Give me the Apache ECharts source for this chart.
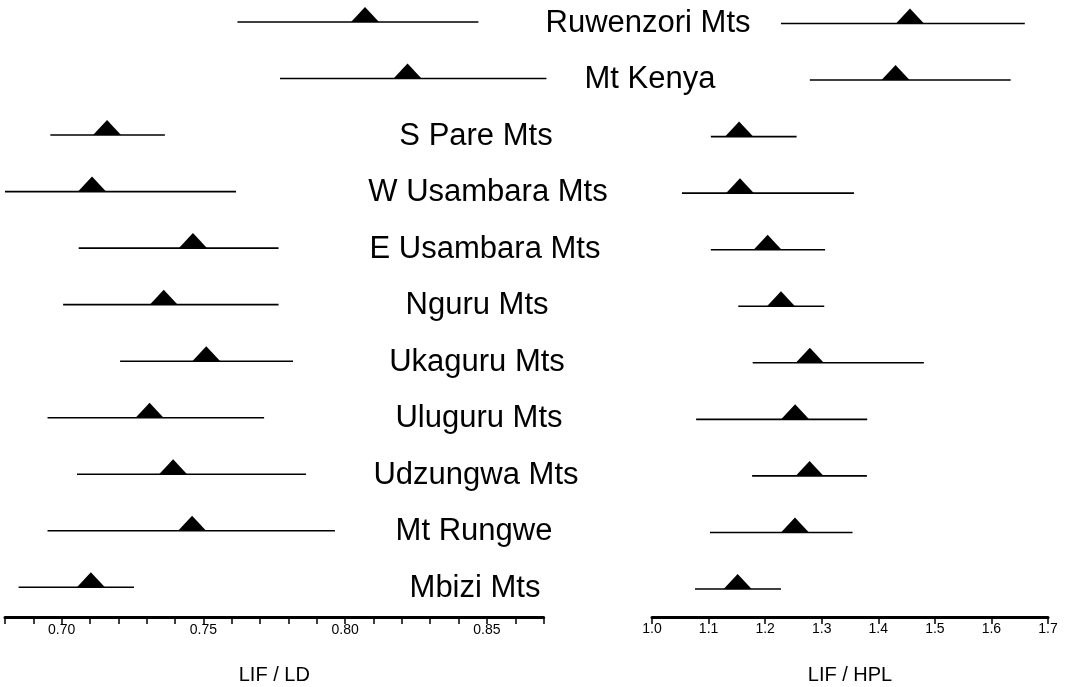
<!DOCTYPE html>
<html>
<head>
<meta charset="utf-8">
<script src="https://cdn.jsdelivr.net/npm/echarts@6/dist/echarts.min.js"></script>
<style>
html,body{margin:0;padding:0;background:#fff;}
#chart{width:1066px;height:687px;}
</style>
</head>
<body>
<div id="chart"></div>
<script>
// ---- data ----
const categories = ['Ruwenzori Mts','Mt Kenya','S Pare Mts','W Usambara Mts','E Usambara Mts','Nguru Mts','Ukaguru Mts','Uluguru Mts','Udzungwa Mts','Mt Rungwe','Mbizi Mts'];
const ldMin  = [0.762, 0.777, 0.696, 0.680, 0.706, 0.7005, 0.7206, 0.695, 0.7054, 0.695, 0.6848];
const ldMean = [0.807, 0.822, 0.716, 0.7107, 0.7463, 0.736, 0.751, 0.731, 0.7393, 0.746, 0.7103];
const ldMax  = [0.847, 0.871, 0.7364, 0.7615, 0.7765, 0.7765, 0.7816, 0.7714, 0.7862, 0.7964, 0.7255];
const hplMin  = [1.228, 1.279, 1.104, 1.053, 1.104, 1.1525, 1.178, 1.078, 1.177, 1.1025, 1.076];
const hplMean = [1.456, 1.4305, 1.154, 1.1555, 1.2044, 1.228, 1.279, 1.253, 1.2786, 1.2527, 1.1514];
const hplMax  = [1.659, 1.634, 1.2556, 1.357, 1.306, 1.3045, 1.4806, 1.3804, 1.3799, 1.3545, 1.228];
const ldTickLabels = ['0.70','0.75','0.80','0.85'];
const hplTickLabels = ['1.0','1.1','1.2','1.3','1.4','1.5','1.6','1.7'];
const ldAxisName = 'LIF / LD';
const hplAxisName = 'LIF / HPL';

// ---- layout (pixel centres of the row labels) ----
const labelCenters = [648, 650, 476, 488, 485, 477, 477, 479, 476, 474, 475];
const FONT = '"Liberation Sans", Arial, Helvetica, sans-serif';

const chart = echarts.init(document.getElementById('chart'), null, {renderer:'canvas'});

function rows(mins, means, maxs){
  return categories.map((c,i)=>[mins[i], means[i], maxs[i], i]);
}
function renderRange(params, api){
  const row = api.value(3);
  const a = api.coord([api.value(0), row]);
  const m = api.coord([api.value(1), row]);
  const b = api.coord([api.value(2), row]);
  return {
    type:'group',
    children:[
      {type:'line', shape:{x1:a[0], y1:a[1], x2:b[0], y2:b[1]}, style:{stroke:'#000', lineWidth:1.6}},
      {type:'polygon', shape:{points:[[m[0]-14, m[1]], [m[0], m[1]-15], [m[0]+14, m[1]]]}, style:{fill:'#000'}}
    ]
  };
}
function yAxisCfg(idx){
  return {gridIndex:idx, type:'value', min:0, max:categories.length-1, inverse:true, show:false};
}

chart.setOption({
  animation:false,
  backgroundColor:'#fff',
  grid:[
    {left:5, right:1066-543.6, top:22, bottom:687-587.3, containLabel:false, outerBoundsMode:'none'},
    {left:652, right:1066-1048, top:23.5, bottom:687-589, containLabel:false, outerBoundsMode:'none'}
  ],
  xAxis:[
    {gridIndex:0, type:'value', min:0.68, max:0.87, interval:0.01, position:'bottom', offset:617-587.3,
     axisLine:{show:true, onZero:false, lineStyle:{color:'#000', width:3}},
     axisTick:{show:true, length:7, lineStyle:{color:'#000', width:1.5}},
     splitLine:{show:false},
     axisLabel:{show:true, margin:6, color:'#000', fontSize:14, fontFamily:FONT, showMinLabel:true, showMaxLabel:true,
       formatter:v=>{const s=v.toFixed(2); return ldTickLabels.indexOf(s)>=0? s : '';}},
     name:ldAxisName, nameLocation:'middle', nameGap:48, nameTextStyle:{color:'#000', fontSize:20, fontFamily:FONT}
    },
    {gridIndex:1, type:'value', min:1.0, max:1.7, interval:0.1, position:'bottom', offset:617-589,
     axisLine:{show:true, onZero:false, lineStyle:{color:'#000', width:3}},
     axisTick:{show:true, length:7, lineStyle:{color:'#000', width:1.5}},
     splitLine:{show:false},
     axisLabel:{show:true, margin:5, color:'#000', fontSize:14, fontFamily:FONT, showMinLabel:true, showMaxLabel:true,
       formatter:v=>{const s=v.toFixed(1); return hplTickLabels.indexOf(s)>=0? s : '';}},
     name:hplAxisName, nameLocation:'middle', nameGap:48, nameTextStyle:{color:'#000', fontSize:20, fontFamily:FONT}
    }
  ],
  yAxis:[yAxisCfg(0), yAxisCfg(1)],
  series:[
    {type:'custom', xAxisIndex:0, yAxisIndex:0, renderItem:renderRange, data:rows(ldMin, ldMean, ldMax), clip:false, silent:true},
    {type:'custom', xAxisIndex:1, yAxisIndex:1, renderItem:renderRange, data:rows(hplMin, hplMean, hplMax), clip:false, silent:true}
  ]
});

// row labels as real text
const texts = categories.map((c,i)=>{
  const y = chart.convertToPixel({yAxisIndex:0}, i);
  return {
    type:'text', x: labelCenters[i], y: y+1,
    style:{text:c, fill:'#000', font:'31px '+FONT, textAlign:'center', textVerticalAlign:'middle'}
  };
});
chart.setOption({graphic:texts});
</script>
</body>
</html>
